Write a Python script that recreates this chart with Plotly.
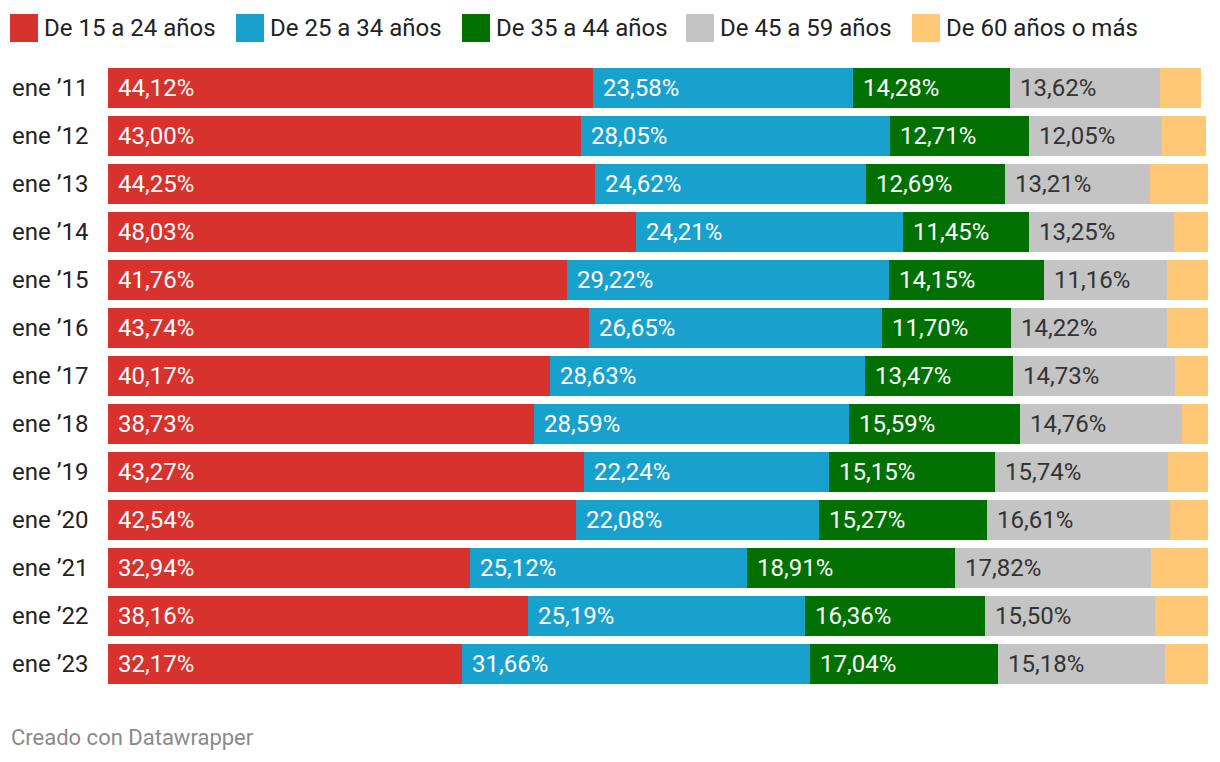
import plotly.graph_objects as go

# ---------------- data ----------------
categories = ["ene ’11", "ene ’12", "ene ’13", "ene ’14", "ene ’15", "ene ’16", "ene ’17",
              "ene ’18", "ene ’19", "ene ’20", "ene ’21", "ene ’22", "ene ’23"]
series_names = ["De 15 a 24 años", "De 25 a 34 años", "De 35 a 44 años",
                "De 45 a 59 años", "De 60 años o más"]
v15_24 = [44.12, 43.00, 44.25, 48.03, 41.76, 43.74, 40.17, 38.73, 43.27, 42.54, 32.94, 38.16, 32.17]
v25_34 = [23.58, 28.05, 24.62, 24.21, 29.22, 26.65, 28.63, 28.59, 22.24, 22.08, 25.12, 25.19, 31.66]
v35_44 = [14.28, 12.71, 12.69, 11.45, 14.15, 11.70, 13.47, 15.59, 15.15, 15.27, 18.91, 16.36, 17.04]
v45_59 = [13.62, 12.05, 13.21, 13.25, 11.16, 14.22, 14.73, 14.76, 15.74, 16.61, 17.82, 15.50, 15.18]
v60 = [3.80, 3.98, 5.23, 3.06, 3.71, 3.69, 3.00, 2.33, 3.60, 3.50, 5.21, 4.79, 3.95]
footer_text = "Creado con Datawrapper"

series_values = [v15_24, v25_34, v35_44, v45_59, v60]
colors = ["#d7322d", "#18a1cd", "#007100", "#c4c4c4", "#fec877"]
label_colors = ["#ffffff", "#ffffff", "#ffffff", "#333333", None]

# ---------------- layout geometry (pixels) ----------------
W_PX, H_PX = 1220, 762
L, R, T, B = 108, 12, 64, 74
PW = W_PX - L - R
PH = H_PX - T - B
FONT = "Roboto"


def px_x(px):
    return (px - L) / PW


def px_y(py):
    return (H_PX - B - py) / PH


fig = go.Figure()
for name, vals, col in zip(series_names, series_values, colors):
    fig.add_trace(go.Bar(
        y=categories, x=vals, name=name, orientation="h",
        marker=dict(color=col, line=dict(width=0)),
        hoverinfo="skip", showlegend=False,
    ))

annotations = []
# value labels inside bars
bases = [0.0] * len(categories)
for vals, lc in zip(series_values, label_colors):
    for i, v in enumerate(vals):
        if lc is not None:
            annotations.append(dict(
                x=bases[i], y=categories[i], xref="x", yref="y",
                text=f"{v:.2f}".replace(".", ",") + "%",
                showarrow=False, xanchor="left", yanchor="middle", xshift=8,
                font=dict(family=FONT, size=24, color=lc),
            ))
        bases[i] += v

# row labels
for c in categories:
    annotations.append(dict(
        x=px_x(10), y=c, xref="paper", yref="y", text=c, showarrow=False,
        xanchor="left", yanchor="middle",
        font=dict(family=FONT, size=24, color="#222222"),
    ))

# custom legend
shapes = []
legend_sq_x = [10, 236, 462, 686, 912]
for name, col, sx in zip(series_names, colors, legend_sq_x):
    shapes.append(dict(
        type="rect", xref="paper", yref="paper",
        x0=px_x(sx), x1=px_x(sx + 28), y0=px_y(42), y1=px_y(14),
        fillcolor=col, line=dict(width=0), layer="above",
    ))
    annotations.append(dict(
        x=px_x(sx + 32), y=px_y(28), xref="paper", yref="paper", text=name,
        showarrow=False, xanchor="left", yanchor="middle",
        font=dict(family=FONT, size=24, color="#222222"),
    ))

# footer
annotations.append(dict(
    x=px_x(9), y=px_y(737), xref="paper", yref="paper", text=footer_text,
    showarrow=False, xanchor="left", yanchor="middle",
    font=dict(family=FONT, size=22, color="#8a8a8a"),
))

fig.update_layout(
    width=W_PX, height=H_PX,
    margin=dict(l=L, r=R, t=T, b=B, pad=0),
    barmode="stack", bargap=8 / 48,
    paper_bgcolor="#ffffff", plot_bgcolor="#ffffff",
    xaxis=dict(range=[0, 100], visible=False, fixedrange=True),
    yaxis=dict(autorange="reversed", visible=False, fixedrange=True),
    annotations=annotations, shapes=shapes,
    showlegend=False,
    font=dict(family=FONT),
)

fig.write_html("out.html", config={"displayModeBar": False})
